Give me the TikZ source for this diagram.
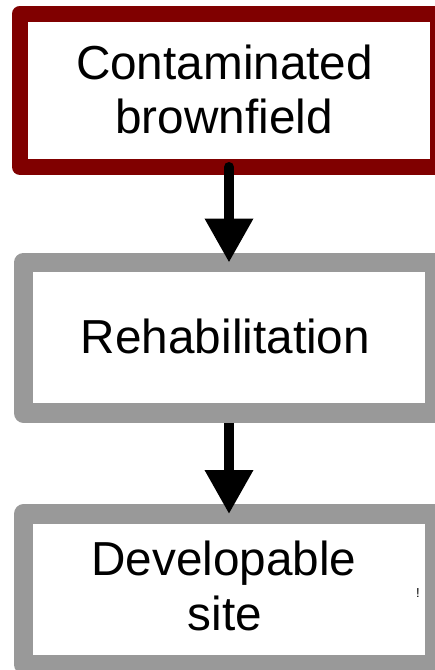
\documentclass[tikz,border=0pt]{standalone}
\usepackage{fontspec}
\setmainfont{Liberation Sans}
\usetikzlibrary{arrows.meta}
\definecolor{boxred}{HTML}{800000}
\definecolor{boxgray}{HTML}{999999}
\begin{document}
\begin{tikzpicture}[x=1pt,y=-1pt,
  stagebox/.style={draw, rectangle, line join=round, fill=white, inner sep=0pt, outer sep=0pt},
  label/.style={anchor=base, inner sep=0pt, font=\fontsize{47.7}{55}\selectfont},
  flow/.style={line width=10pt, -{Triangle[length=44pt,width=46pt]}}]
\useasboundingbox (0,0) rectangle (435,670);
\fill[white] (0,0) rectangle (435,670);

% the three stages
\node[stagebox, draw=boxred, line width=16pt, minimum width=418pt, minimum height=153.5pt] (b1) at (229,90.25) {};
\node[stagebox, draw=boxgray, line width=19.5pt, minimum width=411pt, minimum height=150.5pt] (b2) at (229,337.75) {};
\node[stagebox, draw=boxgray, line width=19.5pt, minimum width=411pt, minimum height=150.5pt] (b3) at (229,589.25) {};

% arrows between the stages
\draw[flow, line cap=round] (b1.south) -- (b2.north);
\draw[flow, shorten <=9.75pt] (b2.south) -- (b3.north);

% labels
\node[label] (t1) at (224.5,79) {Contaminated};
\node[label] (t2) at (224,133) {brownfield};
\node[label] (t3) at (225.5,353) {Rehabilitation};
\node[label] (t4) at (224,575) {Developable};
\node[label] (t5) at (225,630) {site};
\node[anchor=base, inner sep=0pt, font=\fontsize{13}{13}\selectfont] (mark) at (418,597) {!};
\end{tikzpicture}
\end{document}
